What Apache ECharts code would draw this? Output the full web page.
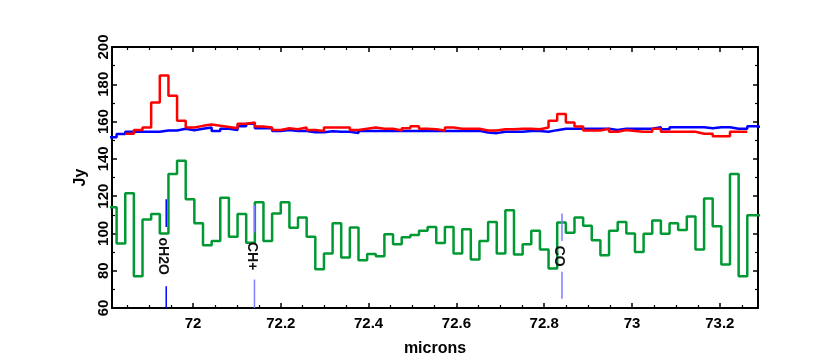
<!DOCTYPE html>
<html>
<head>
<meta charset="utf-8">
<script src="https://cdn.jsdelivr.net/npm/echarts@6/dist/echarts.min.js"></script>
<style>
  html, body { margin: 0; padding: 0; background: #fff; }
  #chart { width: 830px; height: 356px; }
</style>
</head>
<body>
<div id="chart"></div>
<script>
// wavelength bin left edges (microns), last value closes the final bin
const edges = [
  71.8063, 71.8260, 71.8457, 71.8653, 71.8850, 71.9047, 71.9244, 71.9441, 71.9637, 71.9834,
  72.0031, 72.0228, 72.0425, 72.0621, 72.0818, 72.1015, 72.1212, 72.1409, 72.1605, 72.1802,
  72.1999, 72.2196, 72.2392, 72.2589, 72.2786, 72.2983, 72.3180, 72.3376, 72.3573, 72.3770,
  72.3967, 72.4164, 72.4360, 72.4557, 72.4754, 72.4951, 72.5148, 72.5344, 72.5541, 72.5738,
  72.5935, 72.6132, 72.6328, 72.6525, 72.6722, 72.6919, 72.7115, 72.7312, 72.7509, 72.7706,
  72.7903, 72.8099, 72.8296, 72.8493, 72.8690, 72.8887, 72.9083, 72.9280, 72.9477, 72.9674,
  72.9871, 73.0067, 73.0264, 73.0461, 73.0658, 73.0855, 73.1051, 73.1248, 73.1445, 73.1642,
  73.1838, 73.2035, 73.2232, 73.2429, 73.2626, 73.2823, 73.3019
];

// red spectrum (Jy) per bin
const redFlux = [
  null, null, 153.5, 155.5, 156.8, 170.2, 184.7, 173.8, 160.4, 156.8,
  157.7, 158.4, 157.7, 157.1, 156.4, 158.8, 159.5, 157.3, 156.8, 155.5,
  156.4, 155.9, 156.8, 155.5, 155.0, 156.8, 156.8, 156.8, 155.5, 156.2,
  156.8, 156.2, 156.2, 155.2, 156.4, 157.5, 156.2, 155.9, 155.2, 156.8,
  156.2, 156.2, 156.2, 155.2, 155.2, 155.9, 155.9, 156.2, 156.2, 155.9,
  156.8, 160.5, 164.0, 159.5, 157.3, 155.2, 155.2, 156.1, 154.5, 155.5,
  155.0, 154.5, 154.5, 156.1, 154.5, 154.5, 154.5, 154.5, 153.5, 153.5,
  152.1, 152.1, 154.5, 154.5, null, null
];

// blue spectrum (Jy) per bin
const blueFlux = [
  151.6, 153.4, 154.5, 154.5, 154.5, 154.5, 155.2, 155.2, 156.1, 155.4,
  156.1, 156.8, 155.0, 156.1, 155.5, 157.5, 158.8, 156.4, 156.4, 155.0,
  155.5, 155.0, 155.0, 154.3, 154.3, 154.8, 154.5, 154.5, 153.9, 155.0,
  155.0, 155.0, 155.0, 155.0, 155.0, 155.0, 155.0, 155.0, 155.0, 155.0,
  155.0, 155.0, 155.0, 154.1, 153.8, 154.5, 154.5, 154.5, 155.0, 155.0,
  154.5, 155.4, 156.2, 156.2, 156.2, 156.2, 156.2, 156.2, 155.5, 156.2,
  156.2, 156.2, 156.2, 157.0, 155.9, 157.0, 157.0, 157.0, 157.0, 156.4,
  157.0, 157.0, 156.2, 156.2, 157.5, 157.0
];

// green spectrum (Jy) per bin
const greenFlux = [
  114.0, 94.6, 121.5, 77.0, 107.5, 110.4, 100.0, 131.9, 139.0, 118.3,
  105.4, 93.7, 96.0, 119.1, 98.2, 110.4, 95.0, 116.7, 95.9, 110.7,
  116.7, 103.0, 108.6, 98.2, 80.8, 89.2, 105.4, 87.1, 103.2, 85.6,
  88.9, 87.8, 99.6, 94.2, 98.0, 99.2, 101.4, 103.4, 94.8, 103.4,
  89.2, 102.3, 86.0, 96.0, 106.1, 89.2, 112.5, 88.7, 94.2, 101.4,
  91.4, 81.2, 105.9, 100.3, 108.6, 104.1, 96.4, 88.3, 101.4, 106.1,
  100.0, 90.1, 99.8, 107.0, 99.8, 105.4, 101.8, 109.1, 91.4, 118.8,
  103.9, 83.3, 131.9, 77.0, 109.7, 109.7
];

// line identifications
const lineNames = ['oH2O', 'CH+', 'CO'];
const lineWaves = [71.939, 72.140, 72.8405];
const lineUpper = [[118.3, 103.5], [115.2, 100.5], [110.7, 96.0]];
const lineLower = [[71.7, 60.0], [75.3, 60.0], [79.4, 65.0]];
const labelY = [87.8, 87.8, 87.8];

const xMin = 71.8155, xMax = 73.287;
const yMin = 60, yMax = 200;

function steps(vals) {
  var out = [];
  for (var k = 0; k < vals.length; k++) {
    if (vals[k] == null) continue;
    out.push([edges[k], vals[k]]);
    if (k === vals.length - 1 || vals[k + 1] == null) out.push([edges[k + 1], vals[k]]);
  }
  return out;
}

var FONT = 'Liberation Sans, Arial, sans-serif';
var lbl = { color: '#000', fontFamily: FONT, fontWeight: 'bold', fontSize: 15 };

function xAx(pos, showLabels) {
  return {
    type: 'value', position: pos, min: xMin, max: xMax, splitNumber: 7,
    name: showLabels ? 'microns' : '', nameLocation: 'middle', nameGap: 33,
    nameTextStyle: { color: '#000', fontFamily: FONT, fontWeight: 'bold', fontSize: 16 },
    axisLine: { show: true, onZero: false, lineStyle: { color: '#000', width: 2 } },
    axisTick: { show: true, inside: true, length: 5, lineStyle: { color: '#000', width: 1.5 } },
    minorTick: { show: true, splitNumber: 4, length: 3, lineStyle: { color: '#000', width: 1.2 } },
    axisLabel: Object.assign({ show: showLabels, margin: 8, showMinLabel: false, showMaxLabel: false }, lbl),
    splitLine: { show: false }
  };
}
function yAx(pos, showLabels) {
  return {
    type: 'value', position: pos, min: yMin, max: yMax, interval: 20,
    name: showLabels ? 'Jy' : '', nameLocation: 'middle', nameGap: 22, nameRotate: 90,
    nameTextStyle: { color: '#000', fontFamily: FONT, fontWeight: 'bold', fontSize: 16 },
    axisLine: { show: true, onZero: false, lineStyle: { color: '#000', width: 2 } },
    axisTick: { show: true, inside: true, length: 5, lineStyle: { color: '#000', width: 1.5 } },
    minorTick: { show: true, splitNumber: 2, length: 3, lineStyle: { color: '#000', width: 1.2 } },
    axisLabel: Object.assign({ show: showLabels, rotate: 90, margin: 1 }, lbl),
    splitLine: { show: false }
  };
}

var annData = lineNames.map(function (n, i) {
  return [lineWaves[i], lineUpper[i][0], lineUpper[i][1], lineLower[i][0], lineLower[i][1], labelY[i], i];
});

var chart = echarts.init(document.getElementById('chart'), null, { renderer: 'canvas' });
chart.setOption({
  animation: false,
  backgroundColor: '#fff',
  grid: { left: 112, right: 72, top: 47, bottom: 48, containLabel: false, outerBoundsMode: 'none' },
  xAxis: [xAx('bottom', true), xAx('top', false)],
  yAxis: [yAx('left', true), yAx('right', false)],
  series: [
    {
      type: 'line', name: 'green', step: 'end', showSymbol: false, data: steps(greenFlux),
      lineStyle: { color: '#009933', width: 2.5 }, clip: true
    },
    {
      type: 'line', name: 'blue', step: 'end', showSymbol: false, data: steps(blueFlux),
      lineStyle: { color: '#0000ff', width: 2.5 }, clip: true
    },
    {
      type: 'line', name: 'red', step: 'end', showSymbol: false, data: steps(redFlux),
      lineStyle: { color: '#ff0000', width: 2.5 }, clip: true
    },
    {
      type: 'custom', name: 'lines', data: annData, z: 5,
      renderItem: function (params, api) {
        var x = api.value(0);
        var a = api.coord([x, api.value(1)]), b = api.coord([x, api.value(2)]);
        var c = api.coord([x, api.value(3)]), d = api.coord([x, api.value(4)]);
        var t = api.coord([x, api.value(5)]);
        var col = api.value(6) === 0 ? '#0000ff' : '#7f7fff';
        return {
          type: 'group',
          children: [
            { type: 'line', shape: { x1: a[0], y1: a[1], x2: b[0], y2: b[1] }, style: { stroke: col, lineWidth: 1.5 } },
            { type: 'line', shape: { x1: c[0], y1: c[1], x2: d[0], y2: d[1] }, style: { stroke: col, lineWidth: 1.5 } },
            {
              type: 'text', x: t[0] - 3, y: t[1], rotation: -Math.PI / 2,
              style: { text: lineNames[api.value(6)], fill: '#111', font: 'bold 14px ' + FONT, align: 'center', verticalAlign: 'middle' }
            }
          ]
        };
      }
    }
  ]
});
</script>
</body>
</html>
